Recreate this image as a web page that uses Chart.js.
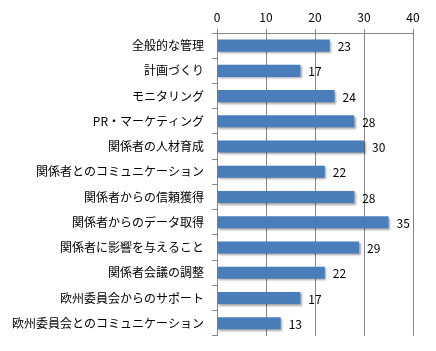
<!DOCTYPE html>
<html>
<head>
<meta charset="utf-8">
<script src="https://cdn.jsdelivr.net/npm/chart.js@4"></script>
<style>
  html, body { margin: 0; padding: 0; background: #fff; }
  #wrap { width: 436px; height: 351px; }
</style>
</head>
<body>
<div id="wrap"><canvas id="chart"></canvas></div>
<script>
// data
const categories = [
    '全般的な管理',
    '計画づくり',
    'モニタリング',
    'PR・マーケティング',
    '関係者の人材育成',
    '関係者とのコミュニケーション',
    '関係者からの信頼獲得',
    '関係者からのデータ取得',
    '関係者に影響を与えること',
    '関係者会議の調整',
    '欧州委員会からのサポート',
    '欧州委員会とのコミュニケーション'
];
const counts = [23, 17, 24, 28, 30, 22, 28, 35, 29, 22, 17, 13];
const xTicks = [0, 10, 20, 30, 40];

const font = "'Noto Sans CJK JP', 'DejaVu Sans', sans-serif";

// bar shadow like the Excel original
const shadowPlugin = {
    id: 'barShadow',
    beforeDatasetsDraw(chart) {
        const c = chart.ctx;
        c.save();
        c.shadowColor = 'rgba(0,0,0,0.35)';
        c.shadowBlur = 2;
        c.shadowOffsetX = 1.5;
        c.shadowOffsetY = 1.5;
    },
    afterDatasetsDraw(chart) {
        chart.ctx.restore();
    }
};

// value labels at the bar ends
const valueLabels = {
    id: 'valueLabels',
    afterDatasetsDraw(chart) {
        const c = chart.ctx;
        const meta = chart.getDatasetMeta(0);
        c.save();
        c.font = '12px ' + font;
        c.fillStyle = '#000';
        c.textAlign = 'left';
        c.textBaseline = 'middle';
        meta.data.forEach((bar, i) => {
            c.fillText(String(counts[i]), bar.x + 8, bar.y + 1);
        });
        c.restore();
    }
};

new Chart(document.getElementById('chart'), {
    type: 'bar',
    data: {
        labels: categories,
        datasets: [{
            data: counts,
            backgroundColor: '#4a7ebb',
            borderColor: '#3e6ea8',
            borderWidth: 0,
            barPercentage: 0.48,
            categoryPercentage: 1.0,
        }]
    },
    options: {
        indexAxis: 'y',
        responsive: true,
        maintainAspectRatio: false,
        animation: false,
        layout: { padding: { left: 0, right: 23, top: 0, bottom: 15 } },
        plugins: {
            legend: { display: false },
            tooltip: { enabled: false }
        },
        scales: {
            x: {
                position: 'top',
                min: 0,
                max: 40,
                afterBuildTicks: s => { s.ticks = xTicks.map(v => ({ value: v })); },
                afterFit: s => { s.height = 33; },
                grid: { color: '#868686', tickLength: 4, lineWidth: 1 },
                border: { color: '#868686' },
                ticks: { color: '#000', font: { family: font, size: 12 }, padding: 4 }
            },
            y: {
                afterFit: s => { s.width = 217; },
                grid: { offset: true, drawOnChartArea: false, color: '#868686', tickLength: 5 },
                border: { color: '#868686' },
                ticks: { color: '#000', font: { family: font, size: 12 }, padding: 8, autoSkip: false }
            }
        }
    },
    plugins: [shadowPlugin, valueLabels]
});
</script>
</body>
</html>
